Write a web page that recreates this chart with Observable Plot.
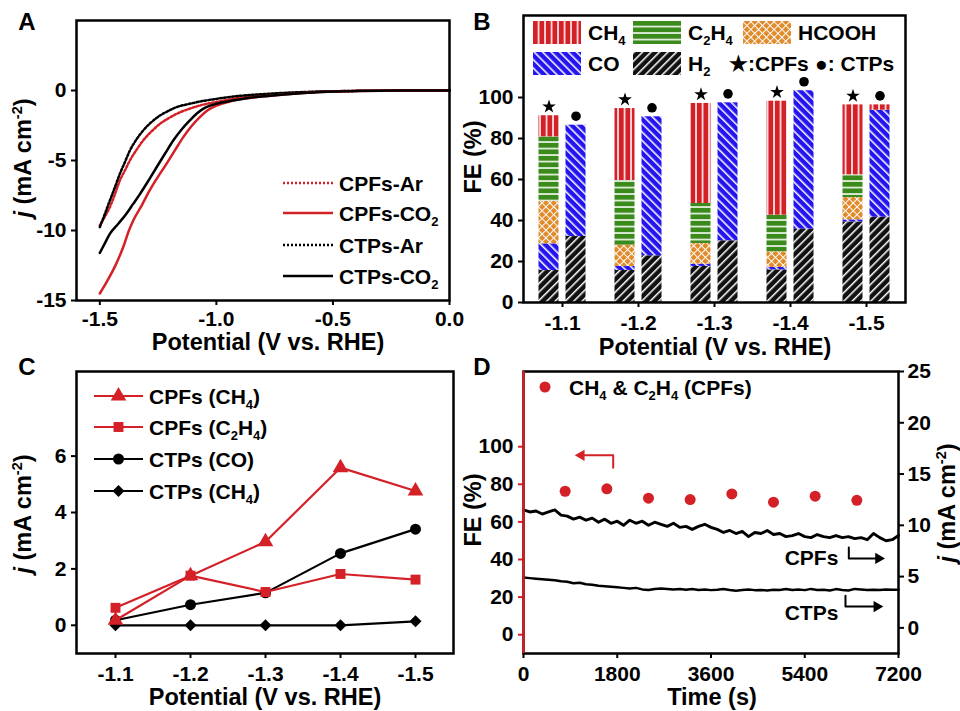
<!DOCTYPE html>
<html><head><meta charset="utf-8">
<script src="https://cdn.jsdelivr.net/npm/d3@7"></script>
<script src="https://cdn.jsdelivr.net/npm/@observablehq/plot@0.6"></script>
<style>
body{margin:0;background:#fff;}
#fig{position:relative;width:960px;height:711px;overflow:hidden;background:#fff;font-family:"Liberation Sans",Arial,sans-serif;font-weight:bold;color:#000;}
.panel{position:absolute;}
.t{position:absolute;white-space:nowrap;line-height:1;}
.t sub,.t sup{font-size:0.62em;line-height:0;}
</style></head><body>
<svg width="0" height="0" style="position:absolute"><defs>
<pattern id="pCH4" patternUnits="userSpaceOnUse" width="6.5" height="10"><rect width="6.5" height="10" fill="#d42027"/><rect x="4.7" width="1.7" height="10" fill="#fff" fill-opacity="0.9"/></pattern>
<pattern id="pC2H4" patternUnits="userSpaceOnUse" width="10" height="6.5"><rect width="10" height="6.5" fill="#3a8a1c"/><rect y="4.7" width="10" height="1.7" fill="#fff" fill-opacity="0.9"/></pattern>
<pattern id="pHCOOH" patternUnits="userSpaceOnUse" width="5.5" height="5.5" patternTransform="rotate(45)"><rect width="5.5" height="5.5" fill="#e08a2a"/><rect width="5.5" height="1.0" fill="#fff"/><rect width="1.0" height="5.5" fill="#fff"/></pattern>
<pattern id="pCO" patternUnits="userSpaceOnUse" width="6" height="10" patternTransform="rotate(-45)"><rect width="6" height="10" fill="#2414ee"/><rect width="1.5" height="10" fill="#fff"/></pattern>
<pattern id="pH2" patternUnits="userSpaceOnUse" width="6" height="10" patternTransform="rotate(45)"><rect width="6" height="10" fill="#111"/><rect width="1.5" height="10" fill="#fff"/></pattern>
</defs></svg>
<div id="fig"></div>
<script>
// ---------- DATA ----------
const potentials = ["-1.1", "-1.2", "-1.3", "-1.4", "-1.5"];

// Panel A: LSV curves [potential V, j mA cm-2]
const cpfsCO2 = [[-1.5,-14.5],[-1.468,-13.6],[-1.436,-12.6],[-1.40,-11.2],[-1.375,-10.0],[-1.357,-9.3],[-1.32,-8.2],[-1.285,-7.1],[-1.25,-6.15],[-1.214,-5.24],[-1.178,-4.28],[-1.142,-3.33],[-1.107,-2.55],[-1.071,-1.9],[-1.04,-1.45],[-1.014,-1.19],[-0.97,-0.92],[-0.928,-0.71],[-0.86,-0.53],[-0.785,-0.4],[-0.71,-0.28],[-0.64,-0.19],[-0.57,-0.12],[-0.5,-0.07],[-0.4,-0.03],[-0.3,-0.01],[-0.2,0],[0,0]];
const ctpsCO2 = [[-1.5,-11.6],[-1.478,-10.9],[-1.457,-10.24],[-1.42,-9.5],[-1.386,-8.8],[-1.357,-8.1],[-1.328,-7.4],[-1.29,-6.4],[-1.257,-5.5],[-1.22,-4.5],[-1.185,-3.57],[-1.15,-2.8],[-1.114,-2.14],[-1.085,-1.66],[-1.057,-1.31],[-1.03,-1.1],[-1.0,-0.95],[-0.93,-0.72],[-0.856,-0.52],[-0.78,-0.39],[-0.71,-0.29],[-0.64,-0.2],[-0.57,-0.12],[-0.5,-0.07],[-0.4,-0.03],[-0.3,-0.01],[-0.2,0],[0,0]];
const cpfsAr = [[-1.5,-9.64],[-1.478,-9.0],[-1.457,-8.33],[-1.435,-7.4],[-1.414,-6.43],[-1.392,-5.7],[-1.371,-5.0],[-1.343,-4.25],[-1.314,-3.57],[-1.28,-2.95],[-1.242,-2.38],[-1.205,-1.98],[-1.171,-1.67],[-1.12,-1.33],[-1.071,-1.07],[-1.0,-0.82],[-0.928,-0.6],[-0.856,-0.44],[-0.785,-0.31],[-0.71,-0.21],[-0.64,-0.14],[-0.55,-0.08],[-0.45,-0.04],[-0.3,-0.01],[-0.2,0],[0,0]];
const ctpsAr = [[-1.5,-9.76],[-1.478,-8.8],[-1.457,-7.86],[-1.435,-6.9],[-1.414,-5.95],[-1.392,-5.1],[-1.371,-4.29],[-1.343,-3.5],[-1.314,-2.86],[-1.28,-2.28],[-1.242,-1.79],[-1.205,-1.45],[-1.171,-1.19],[-1.12,-0.97],[-1.071,-0.79],[-1.0,-0.6],[-0.928,-0.43],[-0.856,-0.32],[-0.785,-0.24],[-0.71,-0.17],[-0.64,-0.12],[-0.55,-0.07],[-0.45,-0.04],[-0.3,-0.01],[-0.2,0],[0,0]];
const aXTicks = [-1.5, -1.0, -0.5, 0.0];
const aYTicks = [0, -5, -10, -15];

// Panel B: Faradaic efficiency (%) per product, stacked bottom -> top
const products = ["H2", "CO", "HCOOH", "C2H4", "CH4"];
const cpfH2    = [15.6, 15.6, 17.6, 15.9, 39.3];
const cpfCO    = [13.0, 2.0, 1.1, 1.2, 1.0];
const cpfHCOOH = [20.7, 10.4, 10.1, 7.6, 10.9];
const cpfC2H4  = [31.5, 31.5, 19.5, 17.9, 11.1];
const cpfCH4   = [10.3, 35.1, 48.8, 55.6, 34.1];
const ctpH2    = [32.2, 22.8, 30.1, 35.8, 41.6];
const ctpCO    = [54.3, 67.8, 67.3, 67.5, 52.2];
const ctpCH4   = [0, 0, 0, 0, 2.6];
const bYTicks = [0, 20, 40, 60, 80, 100];

// Panel C: partial current densities (mA cm-2)
const cpfsCH4j  = [0.18, 1.76, 2.96, 5.59, 4.76];
const cpfsC2H4j = [0.62, 1.76, 1.18, 1.82, 1.62];
const ctpsCOj   = [0.18, 0.73, 1.15, 2.55, 3.41];
const ctpsCH4j  = [0, 0, 0, 0, 0.14];
const cYTicks = [0, 2, 4, 6];

// Panel D: stability
const feTimes = [800, 1600, 2400, 3200, 4000, 4800, 5600, 6400];
const feCPFs  = [76.3, 77.6, 72.6, 71.9, 74.9, 70.5, 73.7, 71.5];
const currentTimes = [0,120,240,360,480,600,720,840,960,1080,1200,1320,1440,1560,1680,1800,1920,2040,2160,2280,2400,2520,2640,2760,2880,3000,3120,3240,3360,3480,3600,3720,3840,3960,4080,4200,4320,4440,4560,4680,4800,4920,5040,5160,5280,5400,5520,5640,5760,5880,6000,6120,6240,6360,6480,6600,6720,6840,6960,7080,7200];
const cpfsCurrent = [11.5,11.3,11.4,11.1,11.3,11.5,11.0,10.9,10.6,10.8,10.5,10.7,10.3,10.6,10.2,10.4,10.0,10.5,10.2,10.4,10.0,10.3,10.1,9.9,10.2,9.8,9.9,9.6,9.9,10.1,9.8,9.6,9.3,9.5,9.2,9.4,8.9,9.3,9.2,9.5,9.1,9.2,8.9,9.0,9.2,8.9,8.8,9.1,8.9,8.8,9.0,8.8,8.9,8.7,8.8,8.6,9.2,8.8,8.5,8.6,9.0];
const ctpsCurrent = [4.9,4.85,4.8,4.75,4.7,4.65,4.55,4.5,4.35,4.4,4.25,4.2,4.1,4.05,4.0,3.95,3.9,3.85,3.9,3.75,3.7,3.8,3.85,3.8,3.75,3.8,3.72,3.78,3.7,3.75,3.68,3.72,3.8,3.7,3.62,3.7,3.75,3.68,3.7,3.65,3.72,3.7,3.78,3.7,3.75,3.68,3.8,3.7,3.72,3.65,3.78,3.7,3.65,3.8,3.75,3.7,3.72,3.7,3.75,3.72,3.72];
const dXTicks = [0, 1800, 3600, 5400, 7200];
const dLeftTicks = [0, 20, 40, 60, 80, 100];
const dRightTicks = [0, 5, 10, 15, 20, 25];
// annotation guides (time s, FE % or j)
const feArrowPath = [[1722, 88.8], [1722, 95.4], [1110, 95.4]];
const feArrowHead = [[1110, 95.4]];
const cpfsArrowPath = [[6246, 7.84], [6246, 6.77], [6816, 6.77]];
const ctpsArrowPath = [[6182, 3.12], [6182, 2.08], [6784, 2.08]];
const dNotes = [{t: 5530, j: 6.8, label: "CPFs"}, {t: 5530, j: 1.45, label: "CTPs"}];

// ---------- HELPERS ----------
const RED = "#d42027";
const fig = document.getElementById("fig");
const baseStyle = {fontFamily: '"Liberation Sans", Arial, sans-serif', fontSize: "21px", fontWeight: "bold", background: "transparent", overflow: "visible", maxWidth: "none", color: "#000"};
function place(node, x, y) { const d = document.createElement("div"); d.className = "panel"; d.style.left = x + "px"; d.style.top = y + "px"; d.appendChild(node); fig.appendChild(d); }
function txt(html, x, y, o = {}) {
  const d = document.createElement("div");
  d.className = "t"; d.innerHTML = html;
  d.style.left = x + "px"; d.style.top = y + "px";
  d.style.fontSize = (o.size || 23.5) + "px";
  if (o.color) d.style.color = o.color;
  const ax = o.anchor === "start" ? "0" : o.anchor === "end" ? "-100%" : "-50%";
  d.style.transform = `translate(${ax},-50%)` + (o.rotate ? ` rotate(${o.rotate}deg)` : "");
  fig.appendChild(d);
}
function svgAt(x, y, w, h, inner) {
  fig.insertAdjacentHTML("beforeend", `<svg width="${w}" height="${h}" style="position:absolute;left:${x}px;top:${y}px;overflow:visible">${inner}</svg>`);
}
const fmt1 = d => d.toFixed(1);
const fmtInt = d => String(d);
const axisCommon = {tickSize: 5, strokeWidth: 2, label: null};

// ---------- PANEL A ----------
const plotA = Plot.plot({
  width: 470, height: 355, marginLeft: 76, marginRight: 21, marginTop: 20, marginBottom: 55,
  style: baseStyle,
  x: {domain: [-1.6, 0]},
  y: {domain: [-15, 5]},
  marks: [
    Plot.axisX({...axisCommon, ticks: aXTicks, tickFormat: fmt1, tickPadding: 6}),
    Plot.axisY({...axisCommon, ticks: aYTicks, tickFormat: fmtInt, tickPadding: 5}),
    Plot.line(cpfsAr, {x: d => d[0], y: d => d[1], stroke: RED, strokeWidth: 2.5, strokeDasharray: "2,2", curve: "monotone-x"}),
    Plot.line(ctpsAr, {x: d => d[0], y: d => d[1], stroke: "#000", strokeWidth: 2.5, strokeDasharray: "2,2", curve: "monotone-x"}),
    Plot.line(cpfsCO2, {x: d => d[0], y: d => d[1], stroke: RED, strokeWidth: 2.5, curve: "monotone-x"}),
    Plot.line(ctpsCO2, {x: d => d[0], y: d => d[1], stroke: "#000", strokeWidth: 2.5, curve: "monotone-x"}),
    Plot.frame({strokeWidth: 2.5})
  ]
});
place(plotA, 0, 0);

// ---------- PANEL B ----------
const patUrl = {H2: "url(#pH2)", CO: "url(#pCO)", HCOOH: "url(#pHCOOH)", C2H4: "url(#pC2H4)", CH4: "url(#pCH4)"};
const cpfByProduct = {H2: cpfH2, CO: cpfCO, HCOOH: cpfHCOOH, C2H4: cpfC2H4, CH4: cpfCH4};
const ctpByProduct = {H2: ctpH2, CO: ctpCO, CH4: ctpCH4};
const barsCPF = products.flatMap(p => potentials.map((pot, i) => ({potential: pot, product: p, value: cpfByProduct[p][i]})));
const barsCTP = ["H2", "CO", "CH4"].flatMap(p => potentials.map((pot, i) => ({potential: pot, product: p, value: ctpByProduct[p][i]})));
const totCPF = potentials.map((p, i) => d3.sum(products, k => cpfByProduct[k][i]));
const totCTP = potentials.map((p, i) => d3.sum(["H2", "CO", "CH4"], k => ctpByProduct[k][i]));
const plotB = Plot.plot({
  width: 490, height: 355, marginLeft: 53, marginRight: 55, marginTop: 15, marginBottom: 53,
  style: baseStyle,
  x: {type: "band", domain: potentials, padding: 0},
  y: {domain: [0, 140]},
  color: {type: "identity"},
  marks: [
    Plot.barY(barsCPF, Plot.stackY({x: "potential", y: "value", z: "product", fill: d => patUrl[d.product], dx: -13.5, insetLeft: 28, insetRight: 28})),
    Plot.barY(barsCTP, Plot.stackY({x: "potential", y: "value", z: "product", fill: d => patUrl[d.product], dx: 13.5, insetLeft: 28, insetRight: 28})),
    Plot.dot(potentials, {x: d => d, y: (d, i) => totCPF[i], symbol: "star", r: 4.3, fill: "#000", stroke: "none", dx: -13.5, dy: -9}),
    Plot.dot(potentials, {x: d => d, y: (d, i) => totCTP[i], symbol: "circle", r: 4.8, fill: "#000", stroke: "none", dx: 13.5, dy: -9}),
    Plot.axisX({...axisCommon, tickPadding: 8}),
    Plot.axisY({...axisCommon, ticks: bYTicks, tickFormat: fmtInt, tickPadding: 5}),
    Plot.frame({strokeWidth: 2.5})
  ]
});
place(plotB, 470, 0);

// ---------- PANEL C ----------
const cRows = potentials.map((p, i) => ({p, cpfCH4: cpfsCH4j[i], cpfC2H4: cpfsC2H4j[i], ctpCO: ctpsCOj[i], ctpCH4: ctpsCH4j[i]}));
const plotC = Plot.plot({
  width: 470, height: 356, marginLeft: 76, marginRight: 17, marginTop: 16, marginBottom: 58,
  style: baseStyle,
  x: {type: "point", domain: potentials, padding: 0.5},
  y: {domain: [-1, 9]},
  marks: [
    Plot.axisX({...axisCommon, tickPadding: 8}),
    Plot.axisY({...axisCommon, ticks: cYTicks, tickFormat: fmtInt, tickPadding: 5}),
    Plot.line(cRows, {x: "p", y: "ctpCH4", stroke: "#000", strokeWidth: 2.2}),
    Plot.dot(cRows, {x: "p", y: "ctpCH4", symbol: "diamond2", r: 5.4, fill: "#000", stroke: "none"}),
    Plot.line(cRows, {x: "p", y: "ctpCO", stroke: "#000", strokeWidth: 2.2}),
    Plot.dot(cRows, {x: "p", y: "ctpCO", symbol: "circle", r: 5.5, fill: "#000", stroke: "none"}),
    Plot.line(cRows, {x: "p", y: "cpfC2H4", stroke: RED, strokeWidth: 2.2}),
    Plot.dot(cRows, {x: "p", y: "cpfC2H4", symbol: "square", r: 5.6, fill: RED, stroke: "none"}),
    Plot.line(cRows, {x: "p", y: "cpfCH4", stroke: RED, strokeWidth: 2.2}),
    Plot.dot(cRows, {x: "p", y: "cpfCH4", symbol: "triangle", r: 5.8, fill: RED, stroke: "none"}),
    Plot.frame({strokeWidth: 2.5})
  ]
});
place(plotC, 0, 355);

// ---------- PANEL D ----------
const toFE = j => -10 + (j + 2.5) * 150 / 27.5;
const fromFE = v => (v + 10) * 27.5 / 150 - 2.5;
const plotD = Plot.plot({
  width: 490, height: 356, marginLeft: 53, marginRight: 62, marginTop: 16, marginBottom: 58,
  style: baseStyle,
  x: {domain: [0, 7200]},
  y: {domain: [-10, 140]},
  marks: [
    Plot.axisX({...axisCommon, ticks: dXTicks, tickFormat: fmtInt, tickPadding: 8}),
    Plot.axisY({...axisCommon, ticks: dLeftTicks, tickFormat: fmtInt, tickPadding: 5, stroke: RED}),
    Plot.axisY({...axisCommon, anchor: "right", ticks: dRightTicks.map(toFE), tickFormat: v => String(Math.round(fromFE(v))), tickPadding: 4}),
    Plot.line(currentTimes, {x: d => d, y: (d, i) => toFE(cpfsCurrent[i]), stroke: "#000", strokeWidth: 2.9}),
    Plot.line(currentTimes, {x: d => d, y: (d, i) => toFE(ctpsCurrent[i]), stroke: "#000", strokeWidth: 2.5}),
    Plot.dot(feTimes, {x: d => d, y: (d, i) => feCPFs[i], r: 5.5, fill: RED, stroke: "none"}),
    Plot.line(feArrowPath, {x: d => d[0], y: d => d[1], stroke: RED, strokeWidth: 2}),
    Plot.dot(feArrowHead, {x: d => d[0], y: d => d[1], symbol: "triangle", r: 4.2, rotate: -90, fill: RED, stroke: "none"}),
    Plot.line(cpfsArrowPath, {x: d => d[0], y: d => toFE(d[1]), stroke: "#000", strokeWidth: 2}),
    Plot.dot(cpfsArrowPath.slice(-1), {x: d => d[0], y: d => toFE(d[1]), symbol: "triangle", r: 4.2, rotate: 90, fill: "#000", stroke: "none"}),
    Plot.line(ctpsArrowPath, {x: d => d[0], y: d => toFE(d[1]), stroke: "#000", strokeWidth: 2}),
    Plot.dot(ctpsArrowPath.slice(-1), {x: d => d[0], y: d => toFE(d[1]), symbol: "triangle", r: 4.2, rotate: 90, fill: "#000", stroke: "none"}),
    Plot.text(dNotes, {x: "t", y: d => toFE(d.j), text: "label", fontSize: 21, fontWeight: "bold", fill: "#000"}),
    Plot.frame({strokeWidth: 2.5}),
    Plot.ruleX([0], {stroke: RED, strokeWidth: 2.5})
  ]
});
place(plotD, 470, 355);

// ---------- TEXT, TITLES, LEGENDS ----------
const jLabel = `<i>j</i> (mA cm<sup>-2</sup>)`;
// panel letters
txt("A", 27, 22, {size: 24});
txt("B", 482, 22, {size: 24});
txt("C", 27, 367, {size: 24});
txt("D", 482, 367, {size: 24});
// axis titles
txt("Potential (V vs. RHE)", 268, 343);
txt(jLabel, 24, 158, {rotate: -90});
txt("Potential (V vs. RHE)", 715, 348);
txt("FE (%)", 474, 157, {rotate: -90});
txt("Potential (V vs. RHE)", 265, 698);
txt(jLabel, 24, 514, {rotate: -90});
txt("Time (s)", 712, 698);
txt("FE (%)", 474, 510, {rotate: -90});
txt(jLabel, 948, 503, {rotate: -90});

// legend A
const legA = [
  {html: "CPFs-Ar", y: 183, stroke: RED, dash: "2,2"},
  {html: "CPFs-CO<sub>2</sub>", y: 213, stroke: RED, dash: null},
  {html: "CTPs-Ar", y: 245, stroke: "#000", dash: "2,2"},
  {html: "CTPs-CO<sub>2</sub>", y: 276, stroke: "#000", dash: null}
];
legA.forEach(r => {
  svgAt(283, r.y - 3, 50, 6, `<line x1="0" x2="50" y1="3" y2="3" stroke="${r.stroke}" stroke-width="2.5" ${r.dash ? `stroke-dasharray="${r.dash}"` : ""}/>`);
  txt(r.html, 339, r.y, {size: 21, anchor: "start"});
});

// legend B
const legB = [
  {key: "CH4", html: "CH<sub>4</sub>", x: 533, y: 32},
  {key: "C2H4", html: "C<sub>2</sub>H<sub>4</sub>", x: 633, y: 32},
  {key: "HCOOH", html: "HCOOH", x: 743, y: 32},
  {key: "CO", html: "CO", x: 533, y: 63},
  {key: "H2", html: "H<sub>2</sub>", x: 633, y: 63}
];
legB.forEach(r => {
  svgAt(r.x, r.y - 11.5, 48, 23, `<rect width="48" height="23" fill="${patUrl[r.key]}"/>`);
  txt(r.html, r.x + 55, r.y, {size: 21, anchor: "start"});
});
txt("★:CPFs", 729, 63, {size: 21, anchor: "start"});
txt("●: CTPs", 815, 63, {size: 21, anchor: "start"});

// legend C
const sym = (type, size) => d3.symbol(type, size)();
const legC = [
  {html: "CPFs (CH<sub>4</sub>)", y: 396, color: RED, path: sym(d3.symbolTriangle, Math.PI * 5.8 * 5.8)},
  {html: "CPFs (C<sub>2</sub>H<sub>4</sub>)", y: 427, color: RED, path: sym(d3.symbolSquare, Math.PI * 5.6 * 5.6)},
  {html: "CTPs (CO)", y: 459, color: "#000", path: sym(d3.symbolCircle, Math.PI * 5.5 * 5.5)},
  {html: "CTPs (CH<sub>4</sub>)", y: 491, color: "#000", path: sym(d3.symbolDiamond2, Math.PI * 5.4 * 5.4)}
];
legC.forEach(r => {
  svgAt(94, r.y - 8, 50, 16, `<line x1="0" x2="49" y1="8" y2="8" stroke="${r.color}" stroke-width="2.2"/><path transform="translate(24.5,8)" d="${r.path}" fill="${r.color}"/>`);
  txt(r.html, 149, r.y, {size: 21, anchor: "start"});
});

// legend D
svgAt(539, 381, 12, 12, `<circle cx="6" cy="6" r="5.5" fill="${RED}"/>`);
txt("CH<sub>4</sub> &amp; C<sub>2</sub>H<sub>4</sub> (CPFs)", 569, 387, {size: 21, anchor: "start"});
</script>
</body></html>
